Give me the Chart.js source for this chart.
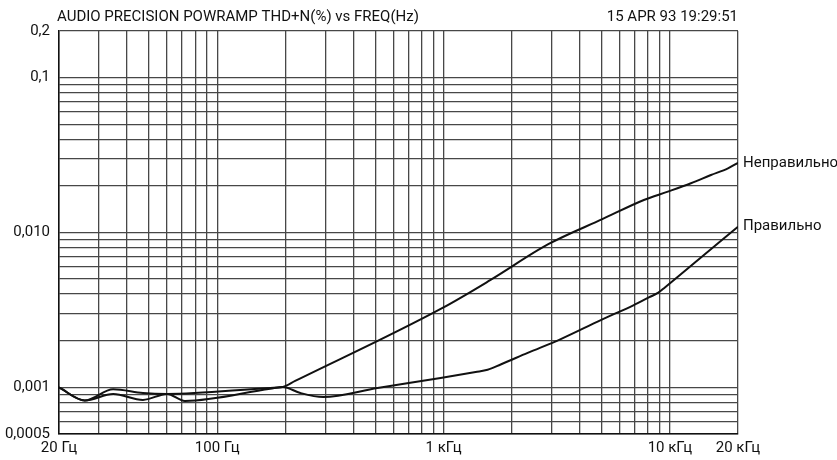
<!DOCTYPE html>
<html>
<head>
<meta charset="utf-8">
<script src="https://cdn.jsdelivr.net/npm/chart.js@4.4.1/dist/chart.umd.min.js"></script>
<style>
  html, body { margin: 0; padding: 0; background: #fff; }
  #wrap { width: 837px; height: 460px; position: relative; }
</style>
</head>
<body>
<div id="wrap"><canvas id="thd"></canvas></div>
<script>
// THD+N vs frequency, two curves on log/log axes

const titleText = 'AUDIO PRECISION POWRAMP THD+N(%) vs FREQ(Hz)';
const dateText = '15 APR 93 19:29:51';

// --- series (Hz, %) ---
const wrongFreq = [20, 26, 34.7, 47, 60, 171.6, 195, 221, 990, 1614, 2916, 5054, 7674, 9796, 12390, 15190, 18060, 20000];
const wrongVals = [0.001, 0.000823, 0.000973, 0.00092, 0.000907, 0.000992, 0.001006, 0.0011, 0.00326, 0.00494, 0.00843, 0.01223, 0.01622, 0.01835, 0.02079, 0.02352, 0.02598, 0.0282];

const rightFreq = [20, 26, 34.7, 47, 60, 72, 171.6, 195, 233, 294, 511, 970, 1386, 1566, 1788, 2354, 3296, 4952, 6932, 8074, 8852, 9506, 13306, 20000];
const rightVals = [0.001, 0.000823, 0.000907, 0.00083, 0.000907, 0.000818, 0.000981, 0.001006, 0.00092, 0.000867, 0.000992, 0.00115, 0.001257, 0.0013, 0.001406, 0.00167, 0.00205, 0.00272, 0.0034, 0.003807, 0.00407, 0.00442, 0.00665, 0.0109];

const seriesNames = ['Неправильно', 'Правильно'];

// --- grid / ticks ---
const xGrid = [20, 30, 40, 50, 60, 70, 80, 90, 100, 200, 300, 400, 500, 600, 700, 800, 900,
  1000, 2000, 3000, 4000, 5000, 6000, 7000, 8000, 9000, 10000, 20000];
const xLabelValues = [20, 100, 1000, 10000, 20000];
const xLabelText = ['20 Гц', '100 Гц', '1 кГц', '10 кГц', '20 кГц'];

const yGrid = [0.0005, 0.0006, 0.0007, 0.0008, 0.0009, 0.001, 0.002, 0.003, 0.004, 0.005, 0.006,
  0.007, 0.008, 0.009, 0.01, 0.02, 0.03, 0.04, 0.05, 0.06, 0.07, 0.08, 0.09, 0.1, 0.2];
const yLabelValues = [0.0005, 0.001, 0.01, 0.1, 0.2];
const yLabelText = ['0,0005', '0,001', '0,010', '0,1', '0,2'];

const FONT = 'Roboto, "Liberation Sans", sans-serif';
const INK = '#111';
const GRID = '#474747';

function toPoints(xs, ys) {
  return xs.map((x, i) => ({ x: x, y: ys[i] }));
}

// header text + end-of-line labels
const annotate = {
  id: 'annotate',
  afterDraw(chart) {
    const ctx = chart.ctx;
    const area = chart.chartArea;
    ctx.save();
    ctx.fillStyle = INK;
    ctx.font = '15px ' + FONT;
    ctx.textBaseline = 'alphabetic';
    ctx.textAlign = 'left';
    ctx.fillText(titleText, area.left - 2, 21);
    ctx.textAlign = 'right';
    ctx.fillText(dateText, area.right, 21);

    ctx.textAlign = 'left';
    ctx.textBaseline = 'middle';
    chart.data.datasets.forEach((ds, i) => {
      const pts = chart.getDatasetMeta(i).data;
      const last = pts[pts.length - 1];
      ctx.fillText(ds.label, last.x + 5, last.y);
    });
    ctx.restore();
  }
};

new Chart(document.getElementById('thd'), {
  type: 'line',
  data: {
    datasets: [
      { label: seriesNames[0], data: toPoints(wrongFreq, wrongVals) },
      { label: seriesNames[1], data: toPoints(rightFreq, rightVals) }
    ]
  },
  options: {
    responsive: true,
    maintainAspectRatio: false,
    animation: false,
    layout: { padding: { left: 0, right: 99, top: 31, bottom: 0 } },
    elements: {
      line: { borderColor: INK, borderWidth: 2, cubicInterpolationMode: 'monotone', borderJoinStyle: 'round' },
      point: { radius: 0 }
    },
    plugins: {
      legend: { display: false },
      tooltip: { enabled: false }
    },
    scales: {
      x: {
        type: 'logarithmic',
        min: 20,
        max: 20000,
        afterBuildTicks: s => { s.ticks = xGrid.map(v => ({ value: v })); },
        afterFit: s => { s.height = 26; },
        grid: { color: GRID, lineWidth: 1.3, drawTicks: false },
        border: { color: INK, width: 1.5 },
        ticks: {
          autoSkip: false,
          maxRotation: 0,
          padding: 5,
          color: INK,
          font: { family: FONT, size: 15 },
          callback: v => {
            const i = xLabelValues.indexOf(v);
            return i >= 0 ? xLabelText[i] : '';
          }
        }
      },
      y: {
        type: 'logarithmic',
        min: 0.0005,
        max: 0.2,
        afterBuildTicks: s => { s.ticks = yGrid.map(v => ({ value: v })); },
        afterFit: s => { s.width = 59; },
        grid: { color: GRID, lineWidth: 1.3, drawTicks: false },
        border: { color: INK, width: 1.5 },
        ticks: {
          autoSkip: false,
          padding: 9,
          color: INK,
          font: { family: FONT, size: 15 },
          callback: v => {
            const i = yLabelValues.indexOf(v);
            return i >= 0 ? yLabelText[i] : '';
          }
        }
      }
    }
  },
  plugins: [annotate]
});
</script>
</body>
</html>
